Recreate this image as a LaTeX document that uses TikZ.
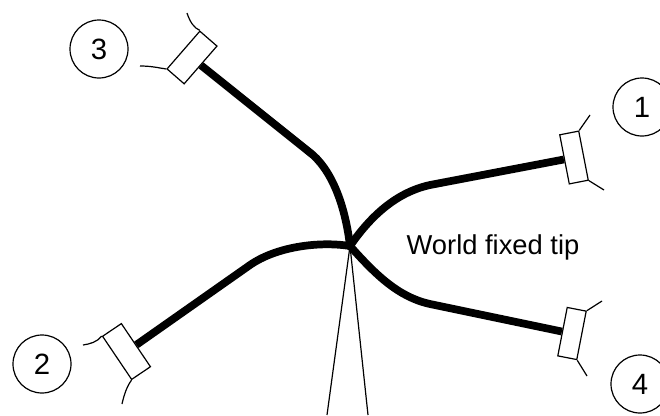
\documentclass[tikz,border=0pt]{standalone}
\usepackage{fontspec}
\setmainfont{Liberation Sans}
\usetikzlibrary{positioning}

\begin{document}
\begin{tikzpicture}[x=0.75pt, y=-0.75pt, line width=0.9pt]

\tikzstyle{number}=[circle,draw,minimum size=43.5pt,inner sep=0pt,font=\fontsize{22}{22}\selectfont]
\tikzstyle{sensor}=[rectangle,draw,inner sep=0pt,fill=white]
\tikzstyle{cable}=[line width=5.8pt]

\useasboundingbox (0,0) rectangle (660,415);

\node[number] (Num1) at (642,107) {1};
\node[number] (Num2) at (42,364) {2};
\node[number] (Num3) at (99,49) {3};
\node[number] (Num4) at (640,384) {4};

\node[sensor,minimum width=37.5pt,minimum height=14.5pt,rotate=-79] (Sensor1) at (574,157.5) {};
\node[sensor,minimum width=39pt,minimum height=17pt,rotate=-56] (Sensor2) at (126.5,351.5) {};
\node[sensor,minimum width=37.5pt,minimum height=17pt,rotate=49] (Sensor3) at (192,57.5) {};
\node[sensor,minimum width=37pt,minimum height=14.5pt,rotate=79] (Sensor4) at (572,333.5) {};

\coordinate (Tip) at (350,246);
\coordinate (FootL) at (327,415);
\coordinate (FootR) at (368,415);
\coordinate (Bend1) at (430,185);
\coordinate (Bend2) at (250,265);
\coordinate (Bend3) at (313,155);
\coordinate (Bend4) at (430,304);

\coordinate (Wire1a) at (590,115);
\coordinate (Wire1b) at (604,190);
\coordinate (Wire2a) at (83,345);
\coordinate (Wire2b) at (122,404);
\coordinate (Wire3a) at (140,66);
\coordinate (Wire3b) at (187,13);
\coordinate (Wire4a) at (602,301);
\coordinate (Wire4b) at (587,376);

\node[font=\fontsize{20.5}{20.5}\selectfont] (Label) at (493,247) {World fixed tip};

\draw (Tip) -- (FootL);
\draw (Tip) -- (FootR);

\draw[cable] (Sensor1.south) -- (Bend1) .. controls (398,192) and (372,214) .. (Tip);
\draw[cable] (Sensor2.north) -- (Bend2) .. controls (276,247) and (318,241) .. (Tip);
\draw[cable] (Sensor3.south) -- (Bend3) .. controls (335,175) and (346,212) .. (Tip);
\draw[cable] (Sensor4.north) -- (Bend4) .. controls (398,297) and (375,274) .. (Tip);

\draw (Sensor1.north west) -- (Wire1a);
\draw (Sensor1.north east) -- (Wire1b);
\draw (Sensor2.south west) .. controls (97,342) and (90,344) .. (Wire2a);
\draw (Sensor2.south east) .. controls (127,386) and (124,395) .. (Wire2b);
\draw (Sensor3.north west) .. controls (159,68) and (152,66) .. (Wire3a);
\draw (Sensor3.north east) .. controls (194,28) and (190,22) .. (Wire3b);
\draw (Sensor4.south east) -- (Wire4a);
\draw (Sensor4.south west) -- (Wire4b);

\end{tikzpicture}
\end{document}
